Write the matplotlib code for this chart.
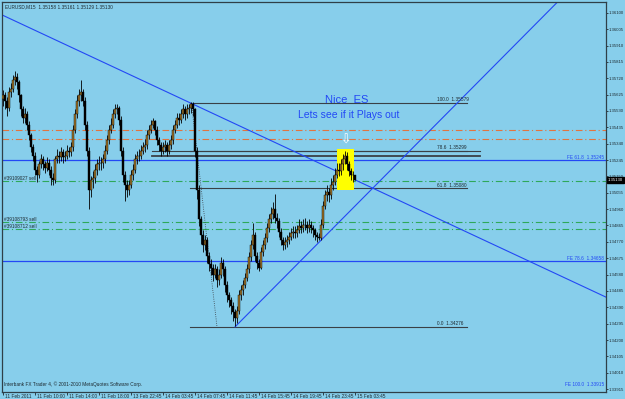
import matplotlib.pyplot as plt
import matplotlib.transforms as mtransforms
from matplotlib.patches import Rectangle
import numpy as np

# EURUSD M15 bars (close, high, low); open = previous close
first_open = 1.3560
closes = [1.3562, 1.3559, 1.3555, 1.3564, 1.3566, 1.3571, 1.3573, 1.3570, 1.3562, 1.3554,
          1.3549, 1.3551, 1.3545, 1.3539, 1.3532, 1.3527, 1.3519, 1.3516, 1.3522, 1.3525,
          1.3522, 1.3520, 1.3523, 1.3519, 1.3514, 1.3513, 1.3525, 1.3527, 1.3526, 1.3529,
          1.3526, 1.3527, 1.3530, 1.3529, 1.3532, 1.3542, 1.3551, 1.3559, 1.3562, 1.3564,
          1.3559, 1.3545, 1.3530, 1.3507, 1.3513, 1.3514, 1.3519, 1.3522, 1.3523, 1.3523,
          1.3525, 1.3530, 1.3536, 1.3542, 1.3545, 1.3551, 1.3554, 1.3555, 1.3548, 1.3530,
          1.3516, 1.3510, 1.3507, 1.3510, 1.3516, 1.3519, 1.3525, 1.3527, 1.3527, 1.3530,
          1.3532, 1.3533, 1.3539, 1.3542, 1.3545, 1.3547, 1.3542, 1.3536, 1.3533, 1.3530,
          1.3532, 1.3533, 1.3530, 1.3533, 1.3536, 1.3542, 1.3545, 1.3549, 1.3548, 1.3551,
          1.3554, 1.3551, 1.3554, 1.3555, 1.3557, 1.3554, 1.3530, 1.3507, 1.3490, 1.3481,
          1.3475, 1.3478, 1.3469, 1.3464, 1.3462, 1.3458, 1.3461, 1.3455, 1.3458, 1.3465,
          1.3461, 1.3452, 1.3446, 1.3443, 1.3440, 1.3436, 1.3433, 1.3437, 1.3446, 1.3449,
          1.3452, 1.3456, 1.3461, 1.3468, 1.3475, 1.3481, 1.3469, 1.3465, 1.3462, 1.3471,
          1.3475, 1.3479, 1.3485, 1.3490, 1.3493, 1.3496, 1.3491, 1.3489, 1.3483, 1.3478,
          1.3475, 1.3477, 1.3478, 1.3480, 1.3482, 1.3483, 1.3482, 1.3484, 1.3486, 1.3485,
          1.3487, 1.3487, 1.3485, 1.3487, 1.3485, 1.3484, 1.3481, 1.3480, 1.3479, 1.3487,
          1.3498, 1.3504, 1.3506, 1.3504, 1.3510, 1.3512, 1.3516, 1.3519, 1.3518, 1.3522,
          1.3525, 1.3527, 1.3522, 1.3518, 1.3516, 1.35158, 1.35130]
highs = [1.3565, 1.3564, 1.3561, 1.3567, 1.3569, 1.3574, 1.3576, 1.3575, 1.3571, 1.3563,
         1.3556, 1.3555, 1.3553, 1.3547, 1.3540, 1.3534, 1.3529, 1.3521, 1.3524, 1.3528,
         1.3527, 1.3524, 1.3526, 1.3525, 1.3521, 1.3517, 1.3527, 1.3531, 1.3530, 1.3532,
         1.3531, 1.3530, 1.3533, 1.3532, 1.3535, 1.3545, 1.3554, 1.3562, 1.3566, 1.3571,
         1.3566, 1.3561, 1.3547, 1.3532, 1.3515, 1.3518, 1.3522, 1.3525, 1.3527, 1.3526,
         1.3528, 1.3533, 1.3539, 1.3545, 1.3549, 1.3554, 1.3557, 1.3557, 1.3556, 1.3550,
         1.3532, 1.3518, 1.3513, 1.3513, 1.3519, 1.3522, 1.3528, 1.3530, 1.3531, 1.3533,
         1.3535, 1.3537, 1.3542, 1.3545, 1.3548, 1.3549, 1.3548, 1.3544, 1.3538, 1.3535,
         1.3535, 1.3536, 1.3535, 1.3536, 1.3539, 1.3545, 1.3548, 1.3552, 1.3552, 1.3554,
         1.3557, 1.3556, 1.3557, 1.3557, 1.3558, 1.3558, 1.3555, 1.3532, 1.3510, 1.3492,
         1.3484, 1.3481, 1.3480, 1.3471, 1.3467, 1.3464, 1.3464, 1.3463, 1.3461, 1.3468,
         1.3467, 1.3463, 1.3454, 1.3448, 1.3445, 1.3442, 1.3438, 1.3440, 1.3449, 1.3452,
         1.3455, 1.3459, 1.3464, 1.3471, 1.3478, 1.3488, 1.3483, 1.3471, 1.3467, 1.3474,
         1.3478, 1.3482, 1.3488, 1.3493, 1.3497, 1.3500, 1.3505, 1.3494, 1.3491, 1.3485,
         1.3480, 1.3480, 1.3481, 1.3483, 1.3485, 1.3486, 1.3486, 1.3487, 1.3490, 1.3489,
         1.3490, 1.3491, 1.3489, 1.3490, 1.3489, 1.3487, 1.3485, 1.3483, 1.3482, 1.3490,
         1.3501, 1.3507, 1.3510, 1.3508, 1.3514, 1.3516, 1.3520, 1.3523, 1.3523, 1.3525,
         1.3528, 1.3530, 1.3529, 1.3524, 1.3520, 1.3518, 1.35161]
lows = [1.3556, 1.3554, 1.3550, 1.3553, 1.3561, 1.3564, 1.3568, 1.3566, 1.3558, 1.3550,
        1.3546, 1.3546, 1.3542, 1.3536, 1.3529, 1.3524, 1.3516, 1.3512, 1.3514, 1.3520,
        1.3519, 1.3517, 1.3518, 1.3516, 1.3510, 1.3510, 1.3511, 1.3523, 1.3523, 1.3524,
        1.3523, 1.3524, 1.3525, 1.3526, 1.3527, 1.3530, 1.3540, 1.3549, 1.3556, 1.3559,
        1.3556, 1.3542, 1.3527, 1.3496, 1.3503, 1.3508, 1.3511, 1.3516, 1.3519, 1.3519,
        1.3520, 1.3523, 1.3528, 1.3534, 1.3540, 1.3543, 1.3549, 1.3551, 1.3545, 1.3527,
        1.3512, 1.3501, 1.3503, 1.3504, 1.3508, 1.3513, 1.3517, 1.3522, 1.3524, 1.3525,
        1.3528, 1.3529, 1.3531, 1.3537, 1.3540, 1.3543, 1.3539, 1.3533, 1.3530, 1.3527,
        1.3528, 1.3529, 1.3527, 1.3528, 1.3531, 1.3534, 1.3540, 1.3543, 1.3545, 1.3546,
        1.3549, 1.3548, 1.3549, 1.3551, 1.3552, 1.3550, 1.3526, 1.3502, 1.3486, 1.3476,
        1.3471, 1.3472, 1.3465, 1.3460, 1.3458, 1.3454, 1.3456, 1.3451, 1.3452, 1.3456,
        1.3457, 1.3448, 1.3442, 1.3439, 1.3435, 1.3431, 1.3428, 1.3430, 1.3435, 1.3443,
        1.3446, 1.3450, 1.3454, 1.3459, 1.3466, 1.3473, 1.3466, 1.3461, 1.3460, 1.3461,
        1.3469, 1.3473, 1.3477, 1.3483, 1.3488, 1.3490, 1.3488, 1.3485, 1.3480, 1.3475,
        1.3472, 1.3473, 1.3474, 1.3476, 1.3478, 1.3479, 1.3479, 1.3480, 1.3482, 1.3482,
        1.3483, 1.3484, 1.3482, 1.3483, 1.3482, 1.3480, 1.3478, 1.3477, 1.3478, 1.3478,
        1.3485, 1.3496, 1.3501, 1.3500, 1.3502, 1.3507, 1.3510, 1.3514, 1.3515, 1.3516,
        1.3519, 1.3522, 1.3519, 1.3515, 1.3513, 1.3512, 1.35129]

price_ticks = [1.36100, 1.36005, 1.35910, 1.35815, 1.35720, 1.35625, 1.35530, 1.35435,
               1.35340, 1.35245, 1.35150, 1.35055, 1.34960, 1.34865, 1.34770, 1.34675,
               1.34580, 1.34485, 1.34390, 1.34295, 1.34200, 1.34105, 1.34010, 1.33915]
time_bars = [0, 16, 32, 48, 64, 80, 96, 112, 128, 144, 160, 176]
time_labels = ['11 Feb 2011', '11 Feb 10:00', '11 Feb 14:00', '11 Feb 18:00',
               '13 Feb 22:45', '14 Feb 03:45', '14 Feb 07:45', '14 Feb 11:45',
               '14 Feb 15:45', '14 Feb 19:45', '14 Feb 23:45', '15 Feb 03:45']

fib_levels = [1.35579, 1.35299, 1.35080, 1.34276]
fib_names = ['100.0', '78.6', '61.8', '0.0']
fe_levels = [1.35245, 1.34658]
fe_names = ['FE 61.8', 'FE 78.6']
red_levels = [1.35420, 1.35368]
order_levels = [1.35124, 1.34886, 1.34845]
order_names = ['#39109027 sell', '#39108793 sell', '#39108712 sell']
current_price = 1.35130

BG = '#87ceeb'
FRAME = '#2f3f48'
BLUE = '#2348f5'
TXT = '#1e2a30'
SMALL = dict(fontsize=3.4, family='Liberation Sans')

fig = plt.figure(figsize=(6.25, 3.99), dpi=100, facecolor=BG)
ax = fig.add_axes([2 / 625, 7 / 399, 604 / 625, 390 / 399])
ax.set_facecolor(BG)
ax.set_xlim(-0.5, 301.5)
ax.set_ylim(1.33898, 1.36163)

# horizontal levels
for lv in red_levels:
    ax.axhline(lv, color='#e2733f', lw=0.8, ls=(0, (6, 2.5, 1, 2.5)), zorder=1)
for lv in order_levels:
    ax.axhline(lv, color='#2ea85a', lw=0.8, ls=(0, (6, 2.5, 1, 2.5)), zorder=1)
for lv, nm in zip(order_levels, order_names):
    ax.text(0.5, lv + 0.00002, nm, color=TXT, va='bottom', ha='left', **SMALL)
for lv, nm in zip(fe_levels, fe_names):
    ax.axhline(lv, color=BLUE, lw=0.9, zorder=1)
    ax.text(300.5, lv + 0.00003, f'{nm}  {lv:.5f}', color=BLUE,
            ha='right', va='bottom', **SMALL)
ax.text(300.5, 1.33925, 'FE 100.0  1.33915', color=BLUE,
        ha='right', va='bottom', **SMALL)

# fibo retracement
for lv, nm in zip(fib_levels, fib_names):
    ax.plot([93.5, 232], [lv, lv], color='#3a4046', lw=0.8, zorder=2)
    ax.text(217, lv + 0.00004, f'{nm}  {lv:.5f}', color=TXT,
            va='bottom', ha='left', **SMALL)
ax.plot([74.5, 238.5], [1.35295, 1.35295], color='#3a4046', lw=0.8, zorder=2)
ax.plot([74.5, 238.5], [1.35268, 1.35268], color='#3a4046', lw=1.3, zorder=2)
ax.plot([94.5, 107], [1.35548, 1.34276], color='#3a4046', lw=0.6, ls=':', zorder=2)

# trend lines
ax.plot([-0.5, 301.5], [1.36088, 1.34449], color=BLUE, lw=0.8, zorder=2)
ax.plot([116, 290], [1.34276, 1.36312], color=BLUE, lw=0.8, zorder=2)

# highlight box
ax.add_patch(Rectangle((167, 1.35071), 8.5, 0.00238, facecolor='#ffff00',
                       edgecolor='none', zorder=2))
ax.text(171.5, 1.35325, '\u21e9', fontsize=9, color='white', ha='center',
        va='bottom', zorder=5)

# candles
opens = [first_open] + closes[:-1]
x = np.arange(len(closes))
o = np.array(opens)
c = np.array(closes)
ax.vlines(x, lows, highs, color='black', lw=0.6, zorder=3)
up = c >= o
ax.bar(x[up], (c - o)[up], bottom=o[up], width=0.85, color='#a0752a',
       edgecolor='black', lw=0.3, zorder=4)
ax.bar(x[~up], (o - c)[~up], bottom=c[~up], width=0.85, color='black',
       edgecolor='black', lw=0.3, zorder=4)

# comments
ax.text(172, 1.35594, 'Nice  ES', fontsize=8, color=BLUE, ha='center',
        va='center', family='Liberation Sans')
ax.text(173, 1.35507, 'Lets see if it Plays out', fontsize=7.5, color=BLUE,
        ha='center', va='center', family='Liberation Sans')

ax.text(0.005, 0.993, 'EURUSD,M15  1.35158 1.35161 1.35129 1.35130',
        transform=ax.transAxes, color=TXT, va='top', **SMALL)
ax.text(0.003, 0.012, 'Interbank FX Trader 4, \u00a9 2001-2010 MetaQuotes Software Corp.',
        transform=ax.transAxes, color=TXT, va='bottom', **SMALL)

# axes styling
for sp in ax.spines.values():
    sp.set_color(FRAME)
    sp.set_linewidth(0.9)
ax.yaxis.tick_right()
ax.set_yticks(price_ticks)
ax.set_yticklabels([f'{p:.5f}' for p in price_ticks], family='Liberation Sans')
ax.tick_params(axis='y', labelsize=3.1, length=1.5, width=0.6, pad=0.3,
               colors=TXT)
ax.set_xticks(time_bars)
ax.set_xticklabels([])
ax.tick_params(axis='x', length=2, width=0.6, colors=TXT)
trans = mtransforms.blended_transform_factory(ax.transData, ax.transAxes)
for b, lab in zip(time_bars, time_labels):
    ax.text(b + 0.8, -0.004, lab, transform=trans, color=TXT, va='top',
            ha='left', clip_on=False, **SMALL)

trans_y = mtransforms.blended_transform_factory(ax.transAxes, ax.transData)
ax.text(1.0035, current_price, f'{current_price:.5f}', transform=trans_y,
        fontsize=3.1, family='Liberation Sans', color='white', va='center',
        ha='left', zorder=10,
        bbox=dict(boxstyle='square,pad=0.15', facecolor='black', edgecolor='black'))

fig.savefig('out.png', dpi=100, facecolor=BG)
